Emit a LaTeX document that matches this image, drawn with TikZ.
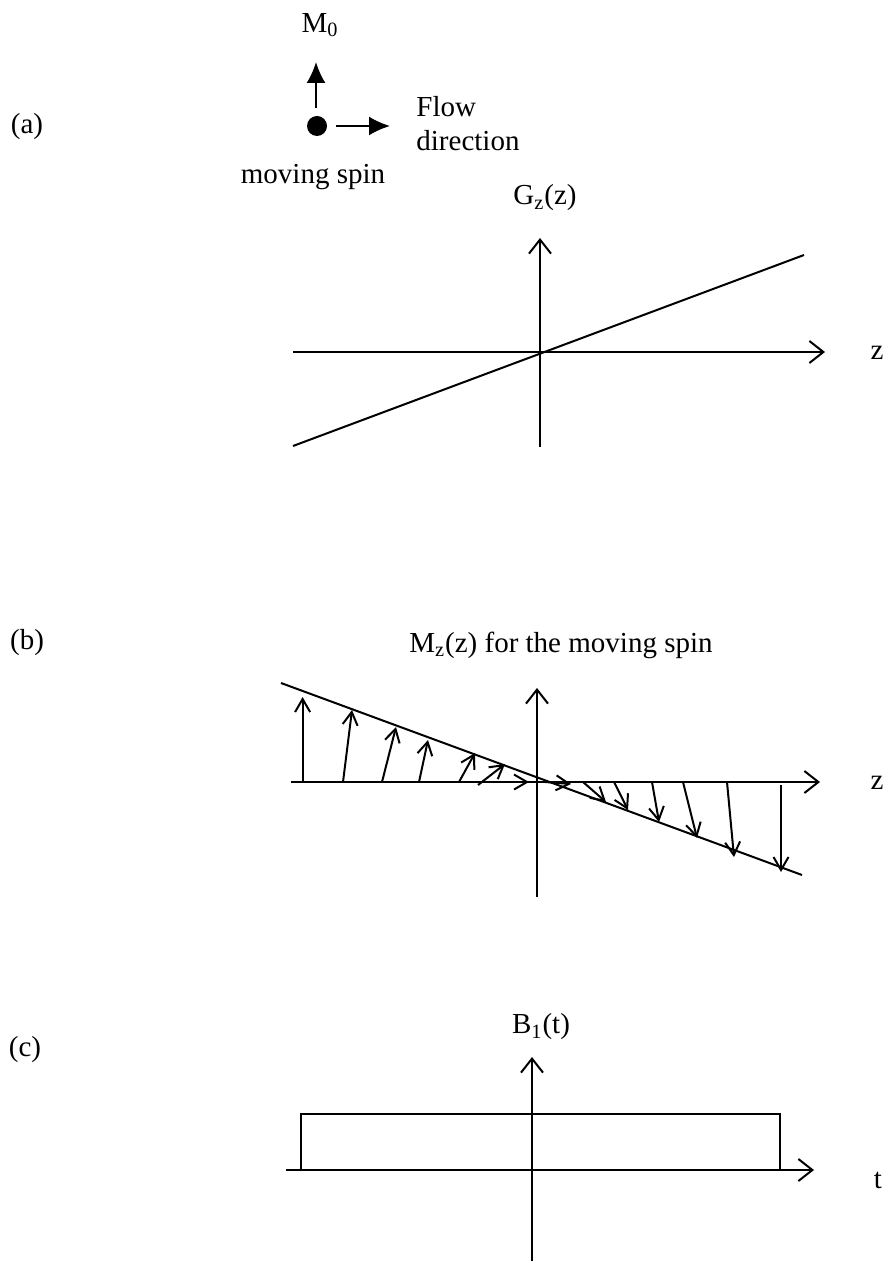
\documentclass[tikz,border=0pt]{standalone}
\usepackage{fontspec}
\setmainfont{Liberation Serif}
\usetikzlibrary{arrows.meta}
\begin{document}
\begin{tikzpicture}[x=0.5pt,y=-0.5pt,
  txt/.style={font=\fontsize{14.5}{17}\selectfont, inner sep=0pt},
  axis/.style={line width=1pt, -{Straight Barb[length=7pt,width=11pt]}},
  vec/.style={line width=1pt, -{Straight Barb[length=6.5pt,width=7.5pt]}},
  solidarrow/.style={line width=1pt, -{Latex[length=10.5pt,width=9.5pt]}},
  plain/.style={line width=1pt}]
\useasboundingbox (0,0) rectangle (887,1261);
% ---------- panel (a)
\node[txt] (la) at (27,127) {(a)};
\node[txt] (m0) at (320,25) {M\textsubscript{0}};
\node[circle, fill, inner sep=0pt, minimum size=10pt] (spin) at (317,126) {};
\coordinate (upS) at (316,108);
\coordinate (upT) at (316,62);
\draw[solidarrow] (upS) -- (upT);
\coordinate (rtS) at (336,126);
\coordinate (rtT) at (390,126);
\draw[solidarrow] (rtS) -- (rtT);
\node[txt, anchor=west, align=left] (flow) at (416,124) {Flow\\direction};
\node[txt] (mspin) at (313,177) {moving spin};
\node[txt] (gz) at (545,198) {G\textsubscript{z}(z)};
\coordinate (avB) at (540,447);
\coordinate (avT) at (540,238);
\coordinate (ahL) at (293,352);
\coordinate (ahR) at (825,352);
\draw[axis] (avB) -- (avT);
\draw[axis] (ahL) -- (ahR);
\coordinate (gL) at (293,446);
\coordinate (gR) at (804,255);
\draw[plain] (gL) -- (gR);
\node[txt] (za) at (877,353) {z};
% ---------- panel (b)
\node[txt] (lb) at (27,643) {(b)};
\node[txt] (mz) at (561,645) {M\textsubscript{z}(z) for the moving spin};
\coordinate (bvB) at (537,897);
\coordinate (bvT) at (537,688);
\coordinate (bhL) at (291,782);
\coordinate (bhR) at (820,782);
\draw[axis] (bvB) -- (bvT);
\draw[axis] (bhL) -- (bhR);
\coordinate (mL) at (281,683);
\coordinate (mR) at (802,875);
\draw[plain] (mL) -- (mR);
\node[txt] (zb) at (877,783) {z};
\foreach \i/\sx/\sy/\tx/\ty in {
  1/302.6/782/302.6/697, 2/343/782/352/710, 3/382/782/396/727,
  4/419/782/428/740, 5/459/782/475/753, 6/478/785/505/764,
  7/480/782/529/782, 8/545/782/571/784,
  9/583/782/606/802, 10/614/782/628/810, 11/652/782/659/822,
  12/683/782/697/838, 13/727/782/734/857, 14/781/785/781/872}{
  \coordinate (s\i) at (\sx,\sy);
  \coordinate (t\i) at (\tx,\ty);
  \draw[vec] (s\i) -- (t\i);
}
% ---------- panel (c)
\node[txt] (lc) at (25,1050) {(c)};
\node[txt] (b1) at (541,1027) {B\textsubscript{1}(t)};
\coordinate (cvB) at (532,1261);
\coordinate (cvT) at (532,1057);
\coordinate (chL) at (286,1170);
\coordinate (chR) at (814,1170);
\draw[axis] (cvB) -- (cvT);
\draw[axis] (chL) -- (chR);
\coordinate (pA) at (301,1170);
\coordinate (pB) at (780,1114);
\draw[plain] (pA) rectangle (pB);
\draw[line width=1.4pt] (pA) -- (pB |- pA);
\node[txt] (tc) at (878,1180) {t};
\end{tikzpicture}
\end{document}
